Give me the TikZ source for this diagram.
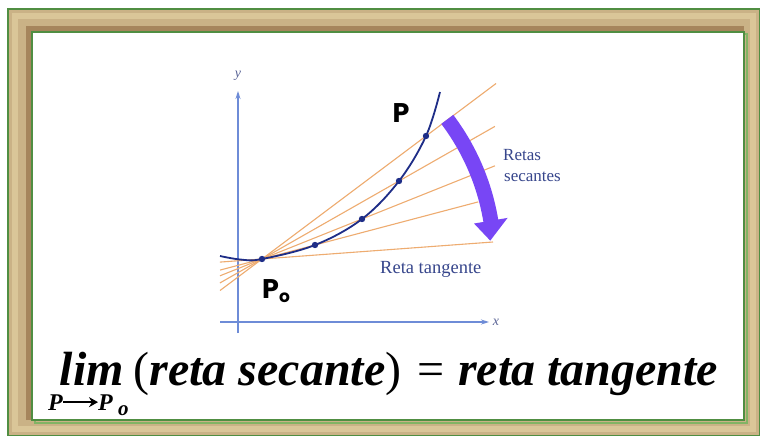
\documentclass[tikz,border=0pt]{standalone}
\usepackage{fontspec}
\newfontfamily\serifp{Liberation Serif}
\newfontfamily\formfont{Liberation Serif}
\newfontfamily\labp{Poppins}
\usetikzlibrary{calc,arrows.meta}
\definecolor{framegreen}{RGB}{80,142,66}
\definecolor{framegreenlight}{RGB}{130,180,100}
\definecolor{bandtan}{RGB}{202,178,134}
\definecolor{bandlight}{RGB}{218,198,152}
\definecolor{bandbrown}{RGB}{158,122,82}
\definecolor{axisblue}{RGB}{110,140,215}
\definecolor{axislabc}{RGB}{90,100,150}
\definecolor{curvenavy}{RGB}{30,45,135}
\definecolor{secorange}{RGB}{238,172,112}
\definecolor{arrowviolet}{RGB}{120,70,245}
\definecolor{textnavy}{RGB}{55,70,140}
\tikzset{
  axisline/.style={draw=axisblue, line width=1.1pt, -{Stealth[length=8pt,width=5pt]}},
  secant/.style={draw=secorange, line width=1.1pt},
  curveline/.style={draw=curvenavy, line width=1.8pt},
  dotmark/.style={fill=curvenavy},
  serifnavy/.style={font=\serifp\fontsize{17}{20}\selectfont, text=textnavy, inner sep=0pt},
  biglabel/.style={font=\labp\bfseries\fontsize{27}{30}\selectfont, inner sep=0pt, text=black},
  axislabel/.style={font=\serifp\itshape\fontsize{14}{16}\selectfont, text=axislabc, inner sep=0pt},
  formtext/.style={font=\formfont\bfseries\itshape\fontsize{48}{56}\selectfont, inner sep=0pt, text=black},
  formup/.style={font=\formfont\fontsize{48}{56}\selectfont, inner sep=0pt, text=black},
  subtext/.style={font=\formfont\bfseries\itshape\fontsize{24}{26}\selectfont, inner sep=0pt, text=black},
  subsmall/.style={font=\formfont\bfseries\itshape\fontsize{21}{23}\selectfont, inner sep=0pt, text=black},
  subarrow/.style={draw=black, line width=1.8pt, -{Stealth[length=9pt,width=10pt]}},
}
\begin{document}
\begin{tikzpicture}[x=1pt,y=-1pt]
\useasboundingbox (0,0) rectangle (760,436);
\fill[white] (0,0) rectangle (760,436);
% frame
\fill[bandtan,even odd rule] (8,9) rectangle (760,436) (32,32) rectangle (744,420);
\draw[bandlight, line width=6pt] (15,16) rectangle (753,429);
\draw[bandbrown, line width=5pt, opacity=0.8] (28.5,420) -- (28.5,28.5) -- (744,28.5);
\draw[framegreenlight, line width=2pt] (34.5,34.5) rectangle (746.5,422.5);
\draw[framegreen, line width=2.4pt] (32,32) rectangle (744,420);
\draw[framegreen, line width=1.6pt] (8,9) rectangle (760,436);
\fill[white] (33.2,33.2) rectangle (742.8,418.8);

% axes
\coordinate (ybot) at (238,333);
\coordinate (ytop) at (238,91);
\coordinate (xleft) at (220,322);
\coordinate (xright) at (489,322);
\draw[axisline] (ybot) -- (ytop);
\draw[axisline] (xleft) -- (xright);
\node[axislabel] (ylab) at (238,76) {y};
\node[axislabel] (xlab) at (496,322) {x};

% curve points
\coordinate (c0) at (220,256);
\coordinate (c1) at (241,259.6);
\coordinate (p0) at (262,259);
\coordinate (q1) at (315,245);
\coordinate (q2) at (362,219);
\coordinate (q3) at (399,181);
\coordinate (p) at (426,136);
\coordinate (c9) at (440,92);
\coordinate (t) at (493,242);

% secant and tangent lines
\draw[secant] ($(p0)!-0.256!(p)$) -- ($(p0)!1.427!(p)$);
\draw[secant] ($(p0)!-0.307!(q3)$) -- ($(p0)!1.70!(q3)$);
\draw[secant] ($(p0)!-0.42!(q2)$) -- ($(p0)!2.33!(q2)$);
\draw[secant] ($(p0)!-0.79!(q1)$) -- ($(p0)!4.08!(q1)$);
\draw[secant] ($(p0)!-0.182!(t)$) -- (t);

% curve
\draw[curveline] plot[smooth, tension=0.6] coordinates {(c0) (c1) (p0) (q1) (q2) (q3) (p) (c9)};
\fill[dotmark] (p0) circle[radius=3.2pt];
\fill[dotmark] (q1) circle[radius=3.2pt];
\fill[dotmark] (q2) circle[radius=3.2pt];
\fill[dotmark] (q3) circle[radius=3.2pt];
\fill[dotmark] (p) circle[radius=3.2pt];

% violet arrow
\fill[arrowviolet]
  plot[domain=37:9.5, samples=30] ({262+239.5*cos(\x)}, {259-239.5*sin(\x)})
  -- ({262+249*cos(9.5)},{259-249*sin(9.5)})
  -- ({262+229*cos(4.6)},{259-229*sin(4.6)})
  -- ({262+215*cos(9.5)},{259-215*sin(9.5)})
  -- plot[domain=9.5:37, samples=30] ({262+224.5*cos(\x)}, {259-224.5*sin(\x)})
  -- cycle;

% labels
\node[biglabel, anchor=base] (lp) at (401,122) {P};
\node[biglabel, anchor=base west] (lp0) at (262,298) {P\raisebox{-4pt}{\fontsize{17}{17}\selectfont o}};
\node[serifnavy, anchor=base west] (retas) at (503,160) {Retas};
\node[serifnavy, anchor=base west] (secantes) at (504,181) {secantes};
\node[serifnavy, font=\serifp\fontsize{18.5}{21}\selectfont, anchor=base west] (tang) at (380,273) {Reta tangente};

% formula
\node[formtext, anchor=base] (limw) at (92,385) {lim};
\node[subtext, anchor=base west] (sp1) at (48,410) {P};
\node[subtext, anchor=base west] (sp2) at (98,410) {P};
\node[subsmall, anchor=base west] (so) at (118,415) {o};
\draw[subarrow] (sp1.east) -- (sp2.west);
\node[formup, anchor=base west] (lpar) at (133,385) {(};
\node[formtext, anchor=base west] (sec) at (lpar.base east) {reta secante};
\node[formup, anchor=base west] (rpar) at (sec.base east) {)};
\node[formup, anchor=base] (eq) at (431,385) {=};
\node[formtext, anchor=base west] (tan) at (458,385) {reta tangente};
\end{tikzpicture}
\end{document}
